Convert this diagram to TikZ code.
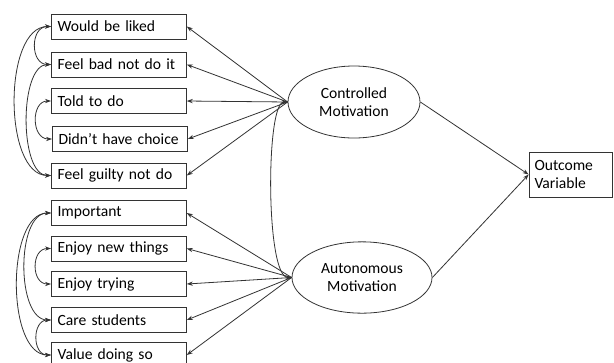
\documentclass[tikz,border=0pt]{standalone}
\usepackage{fontspec}
\setmainfont{Carlito}
\usetikzlibrary{shapes.geometric,arrows.meta}
\begin{document}
\begin{tikzpicture}[x=0.75pt,y=-0.75pt,
  font=\fontsize{11.7}{14}\selectfont,
  lc/.style={draw=black!80, line width=0.6pt},
  item/.style={lc, rectangle, anchor=west, minimum width=101.25pt, minimum height=18.75pt,
    text width=92pt, inner xsep=4.6pt, inner ysep=0pt, align=left},
  latent/.style={lc, ellipse, inner sep=0pt, align=center},
  arr/.style={lc, -{Stealth[length=4.5pt,width=3.2pt]}},
  cov/.style={lc, {Stealth[length=4.5pt,width=3.2pt]}-{Stealth[length=4.5pt,width=3.2pt]}}
]
\clip (0,0) rectangle (614,362);
\fill[white] (0,0) rectangle (614,362);
% controlled items
\node[item] (w1) at (51,26.5) {Would be liked};
\node[item] (w2) at (51,64.5) {Feel bad not do it};
\node[item] (w3) at (51,101) {Told to do};
\node[item] (w4) at (52,139) {Didn’t have choice};
\node[item] (w5) at (51,175.5) {Feel guilty not do};
% autonomous items
\node[item] (a1) at (51,213) {Important};
\node[item] (a2) at (51,248.5) {Enjoy new things};
\node[item] (a3) at (51,284) {Enjoy trying};
\node[item] (a4) at (51,320) {Care students};
\node[item] (a5) at (51,355) {Value doing so};
% latents
\node[latent, minimum width=99pt, minimum height=54pt] (cm) at (354,102) {Controlled\\Motivation};
\node[latent, minimum width=105pt, minimum height=53.5pt] (am) at (362,277.5) {Autonomous\\Motivation};
% outcome
\node[lc, rectangle, minimum width=62.25pt, minimum height=33.75pt, text width=54pt,
  inner xsep=4pt, inner ysep=0pt, align=left] (out) at (570.5,174.5) {Outcome\\Variable};
% loadings
\foreach \n in {w1,w2,w3,w4,w5} \draw[arr] (cm.west) -- (\n.east);
\foreach \n in {a1,a2,a3,a4,a5} \draw[arr] (am.west) -- (\n.east);
% structural paths
\draw[arr] (cm.east) -- (out.west);
\draw[arr] (am.east) -- (out.west);
% covariances
\draw[cov] (w1.west) .. controls +(-21,0) and +(-21,0) .. (w2.west);
\draw[cov] (w1.west) .. controls +(-48,0) and +(-48,0) .. (w5.west);
\draw[cov] (w2.west) .. controls +(-32,0) and +(-32,0) .. (w5.west);
\draw[cov] (w3.west) .. controls +(-20,0) and +(-21,0) .. (w4.west);
\draw[cov] (a1.west) .. controls +(-35,0) and +(-35,0) .. (a4.west);
\draw[cov] (a1.west) .. controls +(-45,0) and +(-45,0) .. (a5.west);
\draw[cov] (a2.west) .. controls +(-20,0) and +(-20,0) .. (a3.west);
\draw[cov] (a4.west) .. controls +(-19,0) and +(-19,0) .. (a5.west);
\draw[cov] (cm.west) .. controls +(-22,0) and +(-26,0) .. (am.west);
\end{tikzpicture}
\end{document}
